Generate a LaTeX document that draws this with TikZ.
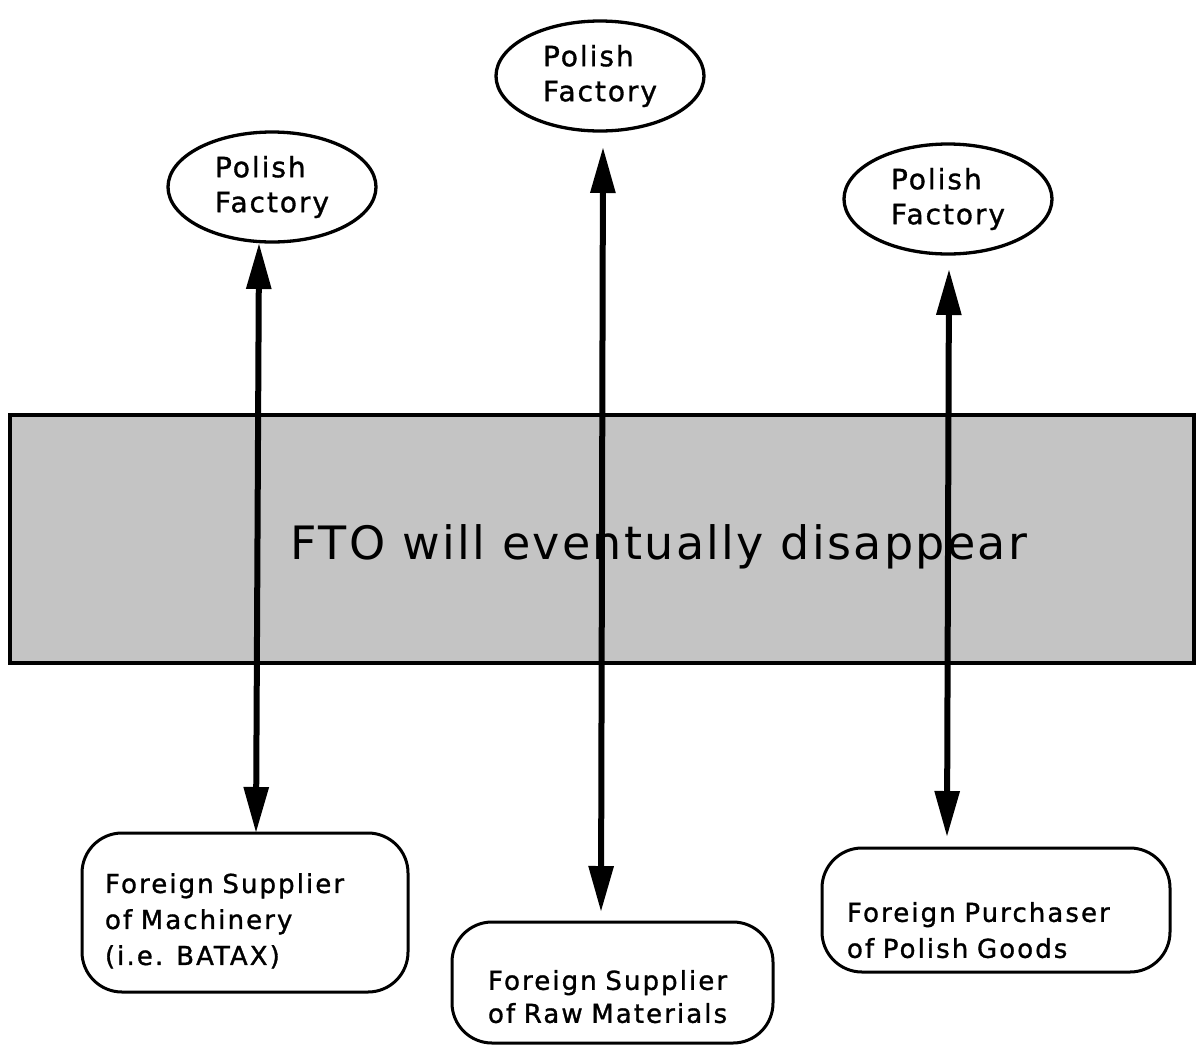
\documentclass[tikz,border=0pt]{standalone}
\usepackage{fontspec}
\usetikzlibrary{arrows.meta,shapes.geometric}
\newfontfamily\lblfont[LetterSpace=8,FakeBold=1.2]{DejaVu Sans}
\newfontfamily\ovalfont[LetterSpace=7,FakeBold=1.2]{DejaVu Sans}
\newfontfamily\bandfont[LetterSpace=5]{DejaVu Sans}
\begin{document}
\begin{tikzpicture}[x=1pt,y=-1pt,
  factory/.style={draw, line width=3.3pt, ellipse, minimum width=208pt, minimum height=110pt,
    inner sep=0pt, align=left, font=\ovalfont\fontsize{28}{35}\selectfont},
  party/.style={draw, line width=3pt, rounded corners=40pt, inner ysep=0pt, align=left,
    font=\lblfont\fontsize{26}{36}\selectfont},
  band/.style={draw, line width=4.5pt, fill=black!23},
  bandtext/.style={font=\bandfont\fontsize{46}{50}\selectfont, inner sep=0pt},
  link/.style={line width=6pt, {Triangle[length=46pt,width=24pt]}-{Triangle[length=46pt,width=24pt]}}]
\useasboundingbox (0,0) rectangle (1200,1045);
\fill[white] (0,0) rectangle (1200,1045);

% band
\node[band, minimum width=1184pt, minimum height=248pt, inner sep=0pt] (fto) at (602,539) {};
\node[bandtext] (ftotext) at (659,547) {FTO will eventually disappear};

% factories
\node[factory] (e1) at (272,187) {Polish\\Factory};
\node[factory] (e2) at (600,76) {Polish\\Factory};
\node[factory] (e3) at (948,199) {Polish\\Factory};

% partners
\node[party, inner xsep=23pt, text width=280pt, minimum height=159pt] (b1) at (245,912.5)
  {\rule{0pt}{36.3pt}Foreign Supplier\\of Machinery\\(i.e. BATAX)};
\node[party, inner xsep=36pt, text width=249pt, minimum height=121pt,
  font=\lblfont\fontsize{26}{33}\selectfont] (b2) at (612.5,982.5)
  {\rule{0pt}{48pt}Foreign Supplier\\of Raw Materials};
\node[party, inner xsep=25pt, text width=298pt, minimum height=124pt] (b3) at (996,910)
  {\rule{0pt}{60pt}Foreign Purchaser\\of Polish Goods};

% arrow ends
\coordinate (a1t) at (259,243);
\coordinate (a1b) at (256,833);
\coordinate (a2t) at (603,147);
\coordinate (a2b) at (601,912);
\coordinate (a3t) at (949,269);
\coordinate (a3b) at (947,837);

\draw[link] (a1t) -- (a1b);
\draw[link] (a2t) -- (a2b);
\draw[link] (a3t) -- (a3b);
\end{tikzpicture}
\end{document}
